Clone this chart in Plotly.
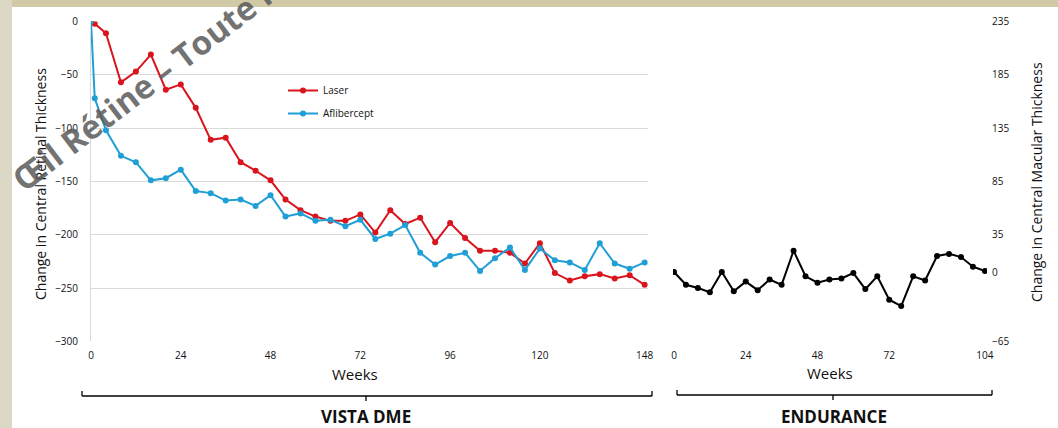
import plotly.graph_objects as go

# ---- data -------------------------------------------------------------
vista_weeks = [0, 1] + list(range(4, 149, 4))
laser = [0, -2, -11, -57, -47, -31, -64, -59, -81, -111, -109, -132, -140,
         -149, -167, -177, -183, -187, -187, -181, -198, -177, -190, -184,
         -207, -189, -203, -215, -215, -217, -227, -208, -236, -243, -239,
         -237, -241, -238, -247]
aflibercept = [0, -72, -102, -126, -132, -149, -147, -139, -159, -161, -168,
               -167, -173, -163, -183, -180, -187, -186, -192, -186, -204,
               -199, -191, -217, -228, -220, -217, -234, -222, -212, -233,
               -213, -224, -226, -233, -208, -227, -232, -226]

endurance_weeks = list(range(0, 105, 4))
endurance = [0, -12, -15, -19, 0, -18, -9, -17, -7, -12, 20, -4, -10, -7, -6,
             -1, -16, -4, -26, -32, -4, -8, 15, 17, 14, 5, 1]

vista_ticks = [0, 24, 48, 72, 96, 120, 148]
endurance_ticks = [0, 24, 48, 72, 104]
left_yticks = [0, -50, -100, -150, -200, -250, -300]
right_yticks = [235, 185, 135, 85, 35, 0, -65]
right_grid = [-65, -15, 35, 85, 135, 185, 235]

# ---- page geometry (pixels -> paper fractions) ----------------------
W, H = 1058, 428


def fx(x):
    return x / W


def fy(y):
    return 1 - y / H


FONT = "Open Sans"
RED = "#d9141c"
BLUE = "#1f9fd6"
GRID = "#d9d9d9"
TXT = "#111111"

fig = go.Figure()

fig.add_trace(go.Scatter(
    x=vista_weeks, y=laser, name="Laser", mode="lines+markers",
    line=dict(color=RED, width=2), marker=dict(color=RED, size=6),
    xaxis="x", yaxis="y", legendgroup="a"))
fig.add_trace(go.Scatter(
    x=vista_weeks, y=aflibercept, name="Aflibercept", mode="lines+markers",
    line=dict(color=BLUE, width=2), marker=dict(color=BLUE, size=6),
    xaxis="x", yaxis="y", legendgroup="b"))
fig.add_trace(go.Scatter(
    x=endurance_weeks, y=endurance, name="Endurance", mode="lines+markers",
    line=dict(color="#000000", width=2), marker=dict(color="#000000", size=6),
    xaxis="x2", yaxis="y2", showlegend=False))

tick_font = dict(family=FONT, size=10, color=TXT)

fig.update_layout(
    width=W, height=H,
    margin=dict(l=0, r=0, t=0, b=0),
    paper_bgcolor="white", plot_bgcolor="rgba(0,0,0,0)",
    font=dict(family=FONT, color=TXT),
    showlegend=True,
    legend=dict(x=fx(283), y=fy(76), xanchor="left", yanchor="top",
                bgcolor="rgba(0,0,0,0)", font=dict(family=FONT, size=10, color=TXT),
                traceorder="grouped", tracegroupgap=4, itemwidth=30),
    xaxis=dict(domain=[fx(91), fx(648)], range=[0, 148.9],
               tickvals=vista_ticks, tickfont=tick_font, showgrid=False,
               zeroline=False, showline=False, ticks="", ticklabelstandoff=7,
               automargin=False, anchor="y"),
    yaxis=dict(domain=[fy(341.3), fy(21.5)], range=[-300, 0],
               tickvals=left_yticks, tickfont=tick_font, showgrid=True,
               gridcolor=GRID, gridwidth=1, zeroline=False, showline=True,
               linecolor=GRID, linewidth=1, ticks="", ticklabelstandoff=10,
               automargin=False, anchor="x"),
    xaxis2=dict(domain=[fx(673), fx(987)], range=[-0.33, 104.7],
                tickvals=endurance_ticks, tickfont=tick_font, showgrid=False,
                zeroline=False, showline=False, ticks="", ticklabelstandoff=7,
                automargin=False, anchor="y2"),
    yaxis2=dict(domain=[fy(341.3), fy(21.5)], range=[-65, 235], side="right",
                tickvals=right_yticks, tickfont=tick_font, showgrid=False,
                zeroline=False, showline=False, ticks="", ticklabelstandoff=4,
                automargin=False, anchor="x2"),
    yaxis3=dict(domain=[fy(341.3), fy(21.5)], range=[-65, 235],
                overlaying="y2", side="right", tickvals=right_grid,
                showticklabels=False, showgrid=True, gridcolor=GRID,
                gridwidth=1, zeroline=False, showline=False, ticks="",
                automargin=False, anchor="x2"),
)

# beige page border strips
shapes = [
    dict(type="rect", xref="paper", yref="paper", x0=0, x1=1, y0=fy(7), y1=1,
         fillcolor="#d2c9a6", line=dict(width=0), layer="below"),
    dict(type="rect", xref="paper", yref="paper", x0=0, x1=fx(12), y0=0, y1=1,
         fillcolor="#dcd8c6", line=dict(width=0), layer="below"),
]


def bracket(x0, x1, xm, y):
    line = dict(color="#000000", width=1.3)
    return [
        dict(type="line", xref="paper", yref="paper", x0=fx(x0), x1=fx(x1),
             y0=fy(y), y1=fy(y), line=line),
        dict(type="line", xref="paper", yref="paper", x0=fx(x0), x1=fx(x0),
             y0=fy(y), y1=fy(y - 5), line=line),
        dict(type="line", xref="paper", yref="paper", x0=fx(x1), x1=fx(x1),
             y0=fy(y), y1=fy(y - 5), line=line),
        dict(type="line", xref="paper", yref="paper", x0=fx(xm), x1=fx(xm),
             y0=fy(y), y1=fy(y + 5), line=line),
    ]


shapes += bracket(82, 652, 366, 396)
shapes += bracket(677, 992, 833, 395)
fig.update_layout(shapes=shapes)


def label(text, x, y, size, angle=0):
    return dict(text=text, x=fx(x), y=fy(y), xref="paper", yref="paper",
                xanchor="center", yanchor="middle", showarrow=False,
                textangle=angle, font=dict(family=FONT, size=size, color=TXT))


annotations = [
    label("Weeks", 355, 374, 15),
    label("Weeks", 830, 373, 15),
    label("Change in Central Retinal Thickness", 40, 184, 14, -90),
    label("Change in Central Macular Thickness", 1036, 182, 14, -90),
    label("<b>VISTA DME</b>", 366, 416, 17),
    label("<b>ENDURANCE</b>", 834, 416, 17),
    dict(text="<b>Œil Rétine – Toute reproduction interdite</b>",
         x=fx(0), y=fy(204), xref="paper", yref="paper", xanchor="left",
         yanchor="bottom", showarrow=False, textangle=-37.5,
         font=dict(family=FONT, size=33, color="rgba(90,90,90,0.85)")),
]
fig.update_layout(annotations=annotations)

fig.write_html("out.html")
